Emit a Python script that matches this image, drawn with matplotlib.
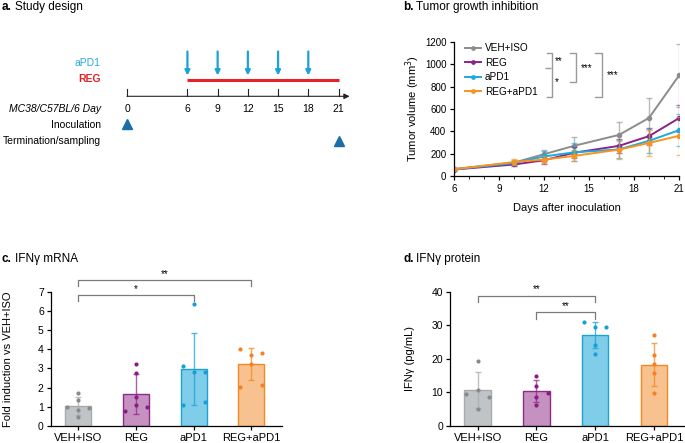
import matplotlib
matplotlib.use("Agg")
import matplotlib.pyplot as plt
import numpy as np

# ---- panel a: study design ----
timeline_days = [0, 6, 9, 12, 15, 18, 21]
apd1_days = [6, 9, 12, 15, 18]
reg_period = [6, 21]
inoculation_day = 0
termination_day = 21

# ---- panel b: tumor growth ----
days = [6, 10, 12, 14, 17, 19, 21]
groups = ["VEH+ISO", "REG", "aPD1", "REG+aPD1"]
vol_veh = [62, 120, 195, 270, 368, 520, 900]
vol_reg = [58, 103, 141, 208, 270, 357, 518]
vol_apd1 = [60, 115, 175, 212, 238, 315, 410]
vol_combo = [60, 125, 147, 180, 236, 296, 360]
err_veh = [10, 20, 40, 75, 118, 175, 285]
err_reg = [8, 15, 38, 50, 60, 75, 120]
err_apd1 = [8, 18, 45, 80, 80, 108, 145]
err_combo = [8, 30, 35, 50, 80, 120, 170]

# ---- panel c: IFNg mRNA ----
mrna_mean = [1.01, 1.68, 2.95, 3.23]
mrna_sd = [0.47, 1.05, 1.88, 0.82]
mrna_pts = [[1.73, 1.33, 0.98, 0.91, 0.80, 0.45],
            [3.25, 2.74, 1.50, 1.10, 0.96, 0.77],
            [6.39, 3.14, 2.79, 2.83, 1.24, 1.10],
            [4.00, 3.79, 3.72, 3.23, 2.15, 2.02]]

# ---- panel d: IFNg protein ----
prot_mean = [10.6, 10.4, 27.1, 18.3]
prot_sd = [5.4, 3.2, 4.0, 6.3]
prot_pts = [[19.5, 10.6, 9.5, 8.5, 5.1],
            [15.0, 11.9, 9.9, 8.5, 6.3],
            [31.1, 29.5, 29.6, 24.1, 21.4],
            [27.0, 21.3, 18.5, 15.7, 9.7]]

# layout: horizontal swarm slots for the dots (-1 left, 0 centre, 1 right)
mrna_slots = [[0, 0, -1, 1, 0, 0], [0, 0, 0, 0, 1, -1],
              [0, -1, 0, 1, 1, -1], [-1, 1, 0, 0, 1, -1]]
prot_slots = [[0, 0, -1, 1, 0], [0, 0, 1, 0, 0],
              [-1, 0, 1, 0, 0], [0, 0, 0, 0, 0]]

line_col = ["#8c8c8c", "#8b2289", "#1ba9e1", "#f7941d"]
face_col = ["#c0c4c6", "#c491c0", "#80cde9", "#f7c190"]
edge_col = ["#a7abad", "#8e2a8a", "#1ba3d6", "#f5891f"]
dot_col = ["#8a8a8a", "#8b1c87", "#16a0d8", "#f58220"]

plt.rcParams["font.family"] = ["Liberation Sans", "DejaVu Sans"]
plt.rcParams["axes.linewidth"] = 0.9
plt.rcParams["xtick.major.width"] = 0.9
plt.rcParams["ytick.major.width"] = 0.9

W, H = 685, 443
fig = plt.figure(figsize=(W / 100, H / 100), dpi=100)


def rect(l, t, r, b):
    return [l / W, 1 - b / H, (r - l) / W, (b - t) / H]


def title(x, y, bold, rest):
    t = fig.text(x / W, 1 - y / H, bold, fontsize=8.5, fontweight="bold", va="baseline")
    fig.canvas.draw()
    bb = t.get_window_extent()
    fig.text(bb.x1 / W + 0.004, 1 - y / H, rest, fontsize=8.5, va="baseline")


# ---------------- a ----------------
px_per_day = 211.5 / 21
ax = fig.add_axes(rect(0, 0, 350, 200))
ax.set_xlim(-127 / px_per_day, (350 - 127) / px_per_day)
ax.set_ylim(200, 0)
ax.axis("off")
ax.annotate("", xy=(22.1, 96.3), xytext=(timeline_days[0], 96.3),
            arrowprops=dict(arrowstyle="-|>", lw=0.8, color="#222222", mutation_scale=8,
                            shrinkA=0, shrinkB=0))
for d in timeline_days:
    ax.plot([d, d], [89.3, 96.3], color="#222222", lw=0.8)
    ax.text(d, 109.5, str(d), fontsize=7.5, ha="center", va="center")
ax.plot(reg_period, [80, 80], color="#e8202a", lw=2.2, solid_capstyle="butt")
for d in apd1_days:
    ax.annotate("", xy=(d, 75.5), xytext=(d, 51.5),
                arrowprops=dict(arrowstyle="-|>", lw=1.6, color="#1ba1d8", mutation_scale=7,
                                shrinkA=0, shrinkB=0))
lx = -26.3 / px_per_day
ax.text(lx, 63.5, "aPD1", color="#29a9e0", fontsize=7.5, ha="right", va="center")
ax.text(lx, 79.5, "REG", color="#e8202a", fontsize=7.5, fontweight="bold", ha="right", va="center")
ax.text(lx, 109.5, "MC38/C57BL/6 Day", fontsize=7.5, style="italic", ha="right", va="center")
ax.text(lx, 125.5, "Inoculation", fontsize=7.5, ha="right", va="center")
ax.text(lx, 141.5, "Termination/sampling", fontsize=7.5, ha="right", va="center")
ax.plot(inoculation_day, 124, marker="^", color="#1b6fa3", ms=6.5, ls="none")
ax.plot(termination_day, 141, marker="^", color="#1b6fa3", ms=6.5, ls="none")
title(2, 10, "a.", "Study design")

# ---------------- b ----------------
ax = fig.add_axes(rect(454, 42, 679, 176))
vols = [vol_veh, vol_reg, vol_apd1, vol_combo]
errs = [err_veh, err_reg, err_apd1, err_combo]
for g, v, e, c in zip(groups, vols, errs, line_col):
    ax.errorbar(days, v, yerr=e, fmt="none", ecolor=c, alpha=0.6, elinewidth=1.0,
                capsize=2.5, capthick=1.0)
    ax.plot(days, v, "-o", color=c, lw=1.4, ms=3, label=g)
ax.set_xlim(6, 21)
ax.set_ylim(0, 1200)
ax.set_xticks([6, 9, 12, 15, 18, 21])
ax.set_xticks(range(6, 22), minor=True)
ax.set_yticks(range(0, 1201, 200))
ax.tick_params(labelsize=7, length=3, pad=2.5)
ax.tick_params(which="minor", length=2)
for s in ["top", "right"]:
    ax.spines[s].set_visible(False)
ax.set_xlabel("Days after inoculation", fontsize=8, labelpad=7)
ax.set_ylabel("Tumor volume (mm$^3$)", fontsize=8, labelpad=2)
ax.legend(loc="upper left", bbox_to_anchor=(0.03, 1.02), frameon=False, fontsize=7.2,
          handlelength=1.6, handletextpad=0.4, labelspacing=0.45, borderaxespad=0,
          markerscale=0.8)


def fig_line(xs, ys, **kw):
    fig.add_artist(plt.Line2D([x / W for x in xs], [1 - y / H for y in ys],
                              color="#9a9a9a", lw=1.0, **kw))


fig_line([547, 552, 552, 547], [52.7, 52.7, 97.3, 97.3])
fig_line([545, 551], [67.7, 67.7], solid_capstyle="butt")
fig.text(555 / W, 1 - 61 / H, "**", fontsize=7, va="center")
fig.text(555 / W, 1 - 82 / H, "*", fontsize=7, va="center")
fig_line([570, 576, 576, 570], [52.7, 52.7, 82, 82])
fig.text(581 / W, 1 - 68.5 / H, "***", fontsize=7, va="center")
fig_line([595, 602, 602, 595], [52.7, 52.7, 97.3, 97.3])
fig.text(607 / W, 1 - 75.5 / H, "***", fontsize=7, va="center")
title(403, 10, "b.", "Tumor growth inhibition")


# ---------------- c, d ----------------
def bar_panel(box, means, sds, pts, slots, ymax, ystep, ylabel, ylabelpad, brackets):
    ax = fig.add_axes(rect(*box))
    x = np.arange(len(groups))
    ax.bar(x, means, width=0.45, color=face_col, edgecolor=edge_col, linewidth=1.0, zorder=1)
    for i in x:
        ax.errorbar(i, means[i], yerr=sds[i], fmt="none", ecolor=edge_col[i], alpha=0.75,
                    elinewidth=1.0, capsize=2.5, capthick=1.0, zorder=2)
        ax.scatter(i + 0.19 * np.array(slots[i]), pts[i], s=9, color=dot_col[i],
                   zorder=3, linewidths=0)
    ax.set_xlim(-0.47, 3.53)
    ax.set_ylim(0, ymax)
    ax.set_yticks(np.arange(0, ymax + 0.01, ystep))
    ax.set_xticks(x)
    ax.set_xticklabels(groups)
    ax.tick_params(labelsize=7.5, length=3, pad=2)
    ax.tick_params(axis="x", labelsize=8)
    for s in ["top", "right"]:
        ax.spines[s].set_visible(False)
    ax.set_ylabel(ylabel, fontsize=8, labelpad=ylabelpad)
    for a, b, yh, yl, ys, star in brackets:
        ax.plot([a, a, b, b], [yl, yh, yh, yl], color="#7a7a7a", lw=0.9, clip_on=False)
        ax.text((a + b) / 2, ys, star, fontsize=7, ha="center", va="center")
    return ax


bar_panel((50.7, 292, 282, 425.7), mrna_mean, mrna_sd, mrna_pts, mrna_slots, 7, 1,
          "Fold induction vs VEH+ISO", 18,
          [(0, 2, 6.84, 6.53, 7.15, "*"), (0, 3, 7.63, 7.31, 7.95, "**")])
title(2, 262, "c.", "IFN\u03b3 mRNA")

bar_panel((450, 292, 685, 425.7), prot_mean, prot_sd, prot_pts, prot_slots, 40, 10,
          "IFN\u03b3 (pg/mL)", 12,
          [(0, 2, 38.8, 37.0, 40.8, "**"), (1, 2, 33.9, 32.0, 35.9, "**")])
title(403, 262, "d.", "IFN\u03b3 protein")

fig.savefig("out.png", dpi=100)
